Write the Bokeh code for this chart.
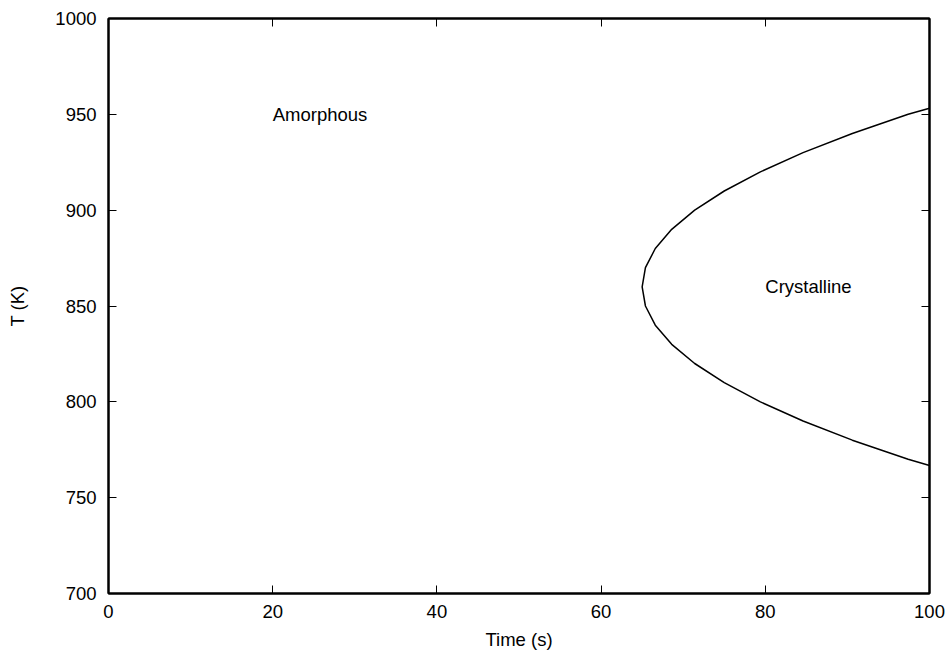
from bokeh.plotting import figure
from bokeh.models import LinearAxis, FixedTicker, Range1d, ColumnDataSource
from bokeh.core.properties import value
from bokeh.embed import file_html
from bokeh.resources import INLINE

# Data (time in s, temperature in K)
temperature = [766.8, 770, 780, 790, 800, 810, 820, 830, 840, 850, 860,
               870, 880, 890, 900, 910, 920, 930, 940, 950, 953.2]
time_s = [100, 97.4, 90.6, 84.6, 79.4, 75.0, 71.4, 68.6, 66.6, 65.4, 65.0,
          65.4, 66.6, 68.6, 71.4, 75.0, 79.4, 84.6, 90.6, 97.4, 100]

x_ticks = [0, 20, 40, 60, 80, 100]
y_ticks = [700, 750, 800, 850, 900, 950, 1000]

region_labels = ["Amorphous", "Crystalline"]
region_x = [20, 80]
region_y = [950, 860]

FONT = "Liberation Sans"
FS = "18.5px"

p = figure(width=946, height=652,
           x_range=Range1d(0, 100), y_range=Range1d(700, 1000),
           output_backend="svg", toolbar_location=None,
           min_border_left=108, min_border_right=17,
           min_border_top=18, min_border_bottom=59)

p.background_fill_color = "white"
p.border_fill_color = "white"
p.outline_line_color = "black"
p.outline_line_width = 2
p.xgrid.visible = False
p.ygrid.visible = False

src = ColumnDataSource(dict(t=time_s, T=temperature))
p.line("t", "T", source=src, line_color="black", line_width=1.5)

lsrc = ColumnDataSource(dict(x=region_x, y=region_y, txt=region_labels))
p.text("x", "y", text="txt", source=lsrc, text_font=value(FONT),
       text_font_size=FS, text_align="left", text_baseline="middle",
       text_color="black")

def style_axis(ax, ticks, standoff):
    ax.ticker = FixedTicker(ticks=ticks)
    ax.major_tick_in = 8
    ax.major_tick_out = 0
    ax.minor_tick_line_color = None
    ax.major_tick_line_color = "black"
    ax.major_tick_line_width = 1
    ax.axis_line_color = "black"
    ax.axis_line_width = 2
    ax.major_label_text_font = FONT
    ax.major_label_text_font_size = FS
    ax.major_label_text_color = "black"
    ax.major_label_standoff = standoff
    ax.axis_label_text_font = FONT
    ax.axis_label_text_font_size = FS
    ax.axis_label_text_font_style = "normal"
    ax.axis_label_text_color = "black"

style_axis(p.xaxis[0], x_ticks, 11)
style_axis(p.yaxis[0], y_ticks, 12)
p.xaxis[0].axis_label = "Time (s)"
p.xaxis[0].axis_label_standoff = 8
p.yaxis[0].axis_label = "T (K)"
p.yaxis[0].axis_label_standoff = 24

for loc, ticks in (("right", y_ticks), ("above", x_ticks)):
    ax = LinearAxis()
    style_axis(ax, ticks, 0)
    ax.major_label_text_font_size = "0px"
    ax.major_label_overrides = {t: "" for t in ticks}
    p.add_layout(ax, loc)

open("out.html", "w").write(file_html(p, INLINE))
